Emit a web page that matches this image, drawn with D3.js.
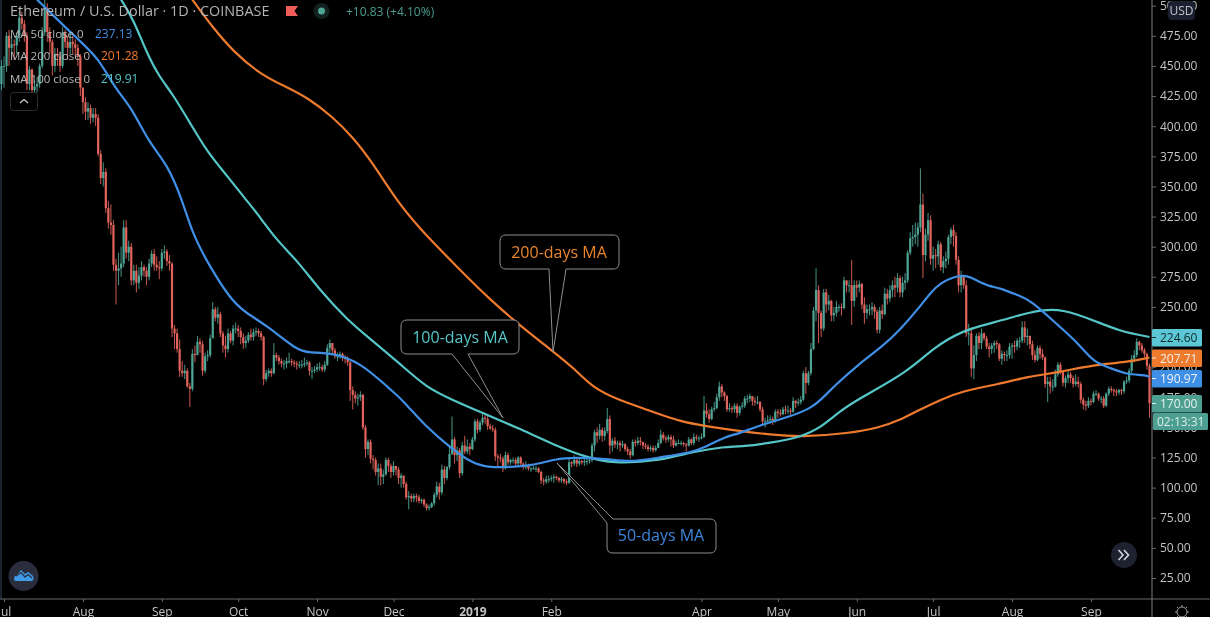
<!DOCTYPE html>
<html><head><meta charset="utf-8">
<script src="https://cdn.jsdelivr.net/npm/d3@7/dist/d3.min.js"></script>
<style>
html,body{margin:0;padding:0;background:#000;overflow:hidden}
svg{display:block;filter:blur(0.45px)}
text{font-family:"Open Sans",Roboto,sans-serif}
</style></head><body><div id="c"></div>
<script>
// Daily candles from 30 Jun 2018; each open is the previous close
const firstDay = "2018-06-30";
const firstOpen = 435;
const closes = [450,
450,475,465,468,467,475,490,485,475,435,447,430,433,435,450,478,498,478,470,450,460,458,450,478,470,465,470,468,465,458,432,
420,412,415,407,410,407,377,357,362,332,320,318,285,280,282,286,316,295,300,272,280,270,276,283,280,275,286,294,285,283,282,
295,296,288,286,232,228,215,197,195,197,184,182,211,210,221,219,197,209,210,224,248,241,244,228,218,215,228,222,232,232,
230,225,220,222,227,225,229,230,228,225,190,195,197,195,210,208,205,203,203,205,205,204,203,202,202,202,203,204,197,197,198,
200,200,198,202,216,220,214,209,209,211,208,207,204,181,177,174,175,177,150,132,138,124,123,113,116,109,111,123,118,113,
118,115,108,110,103,92,93,91,93,92,89,90,86,83,84,87,94,101,96,115,108,117,128,140,127,131,112,135,130,134,132,
140,155,148,154,158,157,151,149,148,126,125,124,116,127,121,123,123,120,125,120,117,118,116,116,116,116,113,106,105,107,107,
108,109,108,106,107,105,104,121,120,123,120,122,121,122,122,123,135,146,143,148,143,147,157,135,139,136,137,135,
136,132,130,127,138,137,139,138,135,134,132,133,131,133,137,144,141,140,142,140,135,137,137,137,136,135,140,137,142,141,141,
142,164,161,157,165,166,175,184,179,176,165,166,165,168,162,167,168,174,174,176,172,171,171,165,155,155,156,157,155,163,
162,161,165,164,164,163,172,170,171,173,195,187,195,215,247,264,245,232,262,252,255,243,245,250,250,249,272,268,268,255,268,
266,269,252,245,248,248,250,246,231,247,244,261,257,264,268,266,274,262,270,272,295,307,308,310,316,335,293,310,322,290,
293,292,302,283,288,290,308,314,309,289,268,275,268,228,228,199,210,226,220,228,224,217,215,218,220,219,207,211,210,210,217,
218,217,222,222,233,225,226,219,210,206,216,211,208,186,188,184,184,194,202,196,187,191,194,191,186,188,186,173,169,168,172,
171,178,178,174,174,168,178,182,181,180,179,181,180,188,189,197,207,210,221,218,214,211,201,170];
const highs = [455,
458,478,480,475,472,478,495,495,488,478,450,448,438,441,452,482,505,502,482,472,465,465,462,482,480,475,478,475,472,468,460,
432,424,420,418,415,415,410,380,370,365,338,335,322,290,295,300,322,322,305,303,285,285,283,288,285,283,290,297,298,292,288,
298,301,298,293,287,235,232,223,205,202,199,187,215,218,226,224,222,212,214,227,254,250,250,246,230,226,232,230,235,237,
235,233,228,226,229,232,232,233,232,230,226,198,199,199,220,212,210,207,206,208,212,207,206,205,205,206,208,206,205,200,201,
203,204,202,205,219,223,220,216,212,213,212,210,209,205,184,180,178,180,178,152,140,140,127,125,120,120,115,125,125,120,
122,118,117,112,110,105,97,95,95,95,94,91,91,87,86,88,96,105,104,119,118,118,135,159,142,134,133,138,143,140,137,
142,157,157,156,161,160,160,153,152,150,128,128,126,130,129,124,125,125,126,126,121,122,120,117,118,118,117,114,108,110,110,
110,111,110,109,109,108,107,124,122,127,125,124,123,124,125,125,137,148,150,153,150,150,166,160,141,142,139,139,
139,137,134,132,140,140,142,142,138,137,136,135,135,135,140,148,146,143,144,144,143,139,140,139,138,137,142,141,145,144,143,
145,176,170,165,167,171,178,188,186,180,177,170,168,170,170,168,171,176,177,178,175,175,176,172,167,158,160,160,159,165,
165,165,167,168,168,166,175,173,174,176,197,200,197,220,250,282,268,247,265,265,260,256,250,255,252,253,275,272,272,289,272,
272,272,270,258,252,252,254,252,248,250,252,266,265,268,272,275,278,276,275,278,297,312,318,320,320,365,344,315,328,326,
300,298,305,304,292,296,310,316,318,312,292,280,276,272,236,233,218,228,229,232,229,226,220,220,222,222,220,214,213,214,220,
220,222,224,225,238,238,232,226,222,214,218,218,215,209,192,192,190,198,204,204,197,193,197,196,193,194,192,188,175,172,175,
174,180,181,179,176,176,179,184,184,182,182,182,182,189,192,199,210,214,224,222,220,216,212,203];
const lows = [430,
432,445,450,455,455,460,470,480,470,430,430,425,420,428,432,448,475,470,460,442,445,450,445,448,465,455,460,460,458,450,425,
410,405,405,402,403,400,375,352,350,328,315,310,280,252,268,275,283,290,288,268,268,262,265,272,275,268,272,283,280,280,273,
280,290,284,280,225,215,212,192,192,190,183,167,180,204,210,212,193,195,205,208,224,238,236,225,212,208,212,220,218,228,
225,219,215,216,220,222,222,226,225,222,185,188,192,192,194,205,202,200,198,199,203,201,200,198,199,199,200,201,193,190,195,
196,197,196,196,201,212,210,207,205,207,205,203,201,172,165,170,168,172,148,125,127,120,115,110,102,102,103,110,113,108,
110,110,103,100,100,90,82,88,88,88,87,87,84,81,81,83,85,92,90,94,103,106,115,127,120,122,108,110,128,128,127,
131,138,145,146,152,153,148,148,146,122,118,121,113,115,119,119,120,118,118,117,115,115,114,113,115,113,112,103,102,103,104,
105,104,106,104,104,103,102,103,117,118,117,118,119,118,119,120,121,130,137,140,138,139,145,128,130,133,132,130,
133,130,127,124,126,134,135,135,132,132,130,130,129,130,133,136,139,137,138,134,133,134,136,135,134,130,134,135,135,139,138,
140,141,158,154,156,163,165,172,175,172,163,163,162,162,158,160,165,166,170,171,168,168,169,163,152,150,153,153,152,154,
158,159,160,161,161,160,162,166,168,169,172,178,185,193,214,238,220,225,230,245,247,238,238,242,246,243,248,262,262,235,250,
258,262,248,236,240,243,243,240,228,228,240,243,252,254,258,258,262,258,258,264,270,293,300,302,300,312,274,288,305,285,
280,282,285,280,278,282,285,302,300,285,262,262,265,225,218,192,190,205,215,215,222,215,208,211,212,215,205,202,205,205,207,
207,212,214,216,220,220,218,215,206,204,205,207,206,183,171,178,180,183,192,194,184,183,187,187,183,184,183,170,165,164,166,
168,170,176,172,170,166,167,176,179,176,176,177,177,178,186,187,195,204,208,214,212,208,198,158];

// Moving averages, read at days counted from 1 Jul 2018
const ma50Days = [13,29,37,44,50,57,64,70,74,80,89,95,103,115,120,129,140,152,156,166,175,184,190,198,207,217,224,237,246,257,270,276,283,289,297,309,317,321,326,336,345,352,359,364,368,373,378,382,387,391,399,403,415,422,428,435,441,448,450];
const ma50Values = [505,472,457,430,416,386,369,339,311,286.5,256,245,235,214,212,212,204,181,174,150,134,120,117,117,118,124,125,124,121,125,129,134,142,145,152,159,166,173,184,203,217,231,248,262,270,275,276.5,272,267,266,259,256,233,220,204,199,194,193.5,192];
const ma100Days = [46,51,56,61,66,73,80,88,95,99,107,115,124,135,143,156,166,176,188,202,216,229,239,257,271,283,289,301,313,321,328,336,355,365,377,389,402,408,416,428,438,450];
const ma100Values = [505,488,461,441,427.5,403,378,358,339,329,305.5,289,264,239,225,202,183,173,162,149.5,135.5,125,120,122,130,134,134,137,142,150,163,174,196,216,231,237,245,247.5,248,239,230,225];
const ma200Days = [74,82,90,101,111,119,129,137,145,154,163,179,191,201,216,224,231,241,253,266,276,289,301,313,332,344,352,360,368,376,391,402,415,428,441,450];
const ma200Values = [505,482,462,442.5,432.5,424,408,391,369,339,315.5,281,256,237.5,212.5,199,183.5,173,164.5,154.5,151,147,144,142,145,150,156,165,173,180,186,192,196,202,204,208];

// Axes
const priceTicks = [25,50,75,100,125,150,175,200,225,250,275,300,325,350,375,400,425,450,475,500];
const timeTickDates = ["2018-07-01","2018-08-01","2018-09-01","2018-10-01","2018-11-01","2018-12-01","2019-01-01","2019-02-01","2019-04-01","2019-05-01","2019-06-01","2019-07-01","2019-08-01","2019-09-01"];
const timeTickLabels = ["Jul","Aug","Sep","Oct","Nov","Dec","2019","Feb","Apr","May","Jun","Jul","Aug","Sep"];

// Legend and price tags
const legendNames = ["MA 50 close 0","MA 200 close 0","MA 100 close 0"];
const legendValues = ["237.13","201.28","219.91"];
const tagValues = [224.60,207.71,190.97,170.00];

const W=1210,H=617,AX=1152,AY=599;
const C={up:"#4ea596",down:"#e2635b",ma50:"#3f8fe6",ma100:"#55c6c8",ma200:"#ee7a2d",axis:"#666a6e",txt:"#c4c4c4",bub:"#8e8e8e"};
const pd=d3.utcParse("%Y-%m-%d");
const x=d3.scaleUtc().domain([pd("2018-07-01"),pd("2019-09-24")]).range([4,1149.5]);
const y=d3.scaleLinear().domain([25,500]).range([578,5.7]);
const day0=pd(firstDay);
const candles=closes.map((c,i)=>({date:d3.utcDay.offset(day0,i),o:i?closes[i-1]:firstOpen,c,h:highs[i],l:lows[i]}));

const svg=d3.select("#c").append("svg").attr("width",W).attr("height",H);
svg.append("rect").attr("width",W).attr("height",H).attr("fill","#000");
svg.append("defs").append("clipPath").attr("id","plot").append("rect").attr("x",0).attr("y",0).attr("width",AX).attr("height",AY);
svg.append("line").attr("x1",1).attr("x2",1).attr("y1",0).attr("y2",AY).attr("stroke","#1c2230").attr("stroke-width",2);
const plot=svg.append("g").attr("clip-path","url(#plot)");

const cg=plot.append("g").selectAll("g").data(candles).join("g")
 .attr("fill",d=>d.c>=d.o?C.up:C.down).attr("stroke",d=>d.c>=d.o?C.up:C.down);
cg.append("line").attr("x1",d=>x(d.date)).attr("x2",d=>x(d.date)).attr("y1",d=>y(d.h)).attr("y2",d=>y(d.l)).attr("stroke-width",1).attr("stroke-opacity",.9);
cg.append("rect").attr("stroke","none").attr("x",d=>x(d.date)-1.1).attr("width",2.2)
 .attr("y",d=>y(Math.max(d.o,d.c))).attr("height",d=>Math.max(1,Math.abs(y(d.o)-y(d.c))));

const line=d3.line().x(d=>x(d3.utcDay.offset(pd("2018-07-01"),d[0]))).y(d=>y(d[1])).curve(d3.curveBasis);
[[ma200Days,ma200Values,C.ma200],[ma100Days,ma100Values,C.ma100],[ma50Days,ma50Values,C.ma50]].forEach(([ds,vs,col])=>{
 plot.append("path").datum(ds.map((d,i)=>[d,vs[i]])).attr("d",line).attr("fill","none").attr("stroke",col).attr("stroke-width",2.2);
});

// axes
const yAxis=d3.axisRight(y).tickValues(priceTicks).tickFormat(d3.format(".2f")).tickSize(4).tickPadding(4);
const yg=svg.append("g").attr("transform",`translate(${AX},0)`).call(yAxis);
yg.select(".domain").remove();
yg.selectAll("line").attr("stroke",C.axis);
yg.selectAll("text").attr("fill",C.txt).attr("font-size",12);
svg.append("line").attr("x1",AX).attr("x2",AX).attr("y1",0).attr("y2",H).attr("stroke",C.axis).attr("stroke-width",1.2);
svg.append("line").attr("x1",0).attr("x2",W).attr("y1",AY).attr("y2",AY).attr("stroke",C.axis).attr("stroke-width",1.2);
const xAxis=d3.axisBottom(x).tickValues(timeTickDates.map(pd)).tickFormat((d,i)=>timeTickLabels[i]).tickSize(3).tickPadding(5);
const xg=svg.append("g").attr("transform",`translate(0,${AY})`).call(xAxis);
xg.select(".domain").remove();
xg.selectAll("line").attr("stroke",C.axis);
xg.selectAll("text").attr("fill",C.txt).attr("font-size",12).attr("font-weight",(d,i)=>timeTickLabels[i]==="2019"?700:400);

// price tags
const tagStyle=[{fill:"#5cc8d6",tc:"#10292e"},{fill:"#ee7a2d",tc:"#f2efe9"},{fill:"#3f8fe6",tc:"#f0f4fa"},{fill:"#4d9f92",tc:"#e6f0ee"}];
const tagY=[337.5,358,378.5,403.5];
tagValues.forEach((v,i)=>{
 const g=svg.append("g");
 g.append("rect").attr("x",AX).attr("y",tagY[i]-8.5).attr("width",50).attr("height",17.5).attr("rx",1.5).attr("fill",tagStyle[i].fill);
 g.append("text").attr("x",1160).attr("y",tagY[i]+4.5).attr("font-size",12).attr("fill",tagStyle[i].tc).text(d3.format(".2f")(v));
 g.append("line").attr("x1",AX).attr("x2",AX+4).attr("y1",tagY[i]).attr("y2",tagY[i]).attr("stroke",tagStyle[i].tc);
});
svg.append("rect").attr("x",1153).attr("y",413).attr("width",55).attr("height",17).attr("rx",1.5).attr("fill","#4d9f92");
svg.append("text").attr("x",1157).attr("y",426).attr("font-size",12).attr("fill","#dcebe8").text("02:13:31");

// USD box
svg.append("rect").attr("x",1168).attr("y",1).attr("width",27).attr("height",19).attr("rx",4).attr("fill","#1b2030");
svg.append("text").attr("x",1181.5).attr("y",15).attr("text-anchor","middle").attr("font-size",12).attr("fill","#c0c4cc").text("USD");

// header
svg.append("text").attr("x",10).attr("y",16).attr("font-size",14.4).attr("fill","#b4b4b4").text("Ethereum / U.S. Dollar · 1D · COINBASE");
svg.append("path").attr("d","M286 6H298L294.5 11L298 16H286Z").attr("fill","#ef5d5a");
svg.append("circle").attr("cx",321.5).attr("cy",11).attr("r",8).attr("fill","#12211f");
svg.append("circle").attr("cx",321.5).attr("cy",11).attr("r",3.5).attr("fill","#4ea596");
svg.append("text").attr("x",346).attr("y",16).attr("font-size",12).attr("fill","#4a9c8e").text("+10.83 (+4.10%)");

// legend
const legendY=[38,60,83],legendX=[95,101,101],legendCol=[C.ma50,C.ma200,C.ma100];
legendNames.forEach((n,i)=>{
 svg.append("text").attr("x",10).attr("y",legendY[i]).attr("font-size",11.5).attr("fill","#b8b8b8").text(n);
 svg.append("text").attr("x",legendX[i]).attr("y",legendY[i]).attr("font-size",12).attr("fill",legendCol[i]).text(legendValues[i]);
});
svg.append("rect").attr("x",10.5).attr("y",92.5).attr("width",27).attr("height",18).attr("rx",3).attr("fill","#000").attr("stroke","#2a2d36");
svg.append("path").attr("d","M20 103L24 99.5L28 103").attr("fill","none").attr("stroke","#c8c8c8").attr("stroke-width",1.3);

// callouts
const bubble=(d,col,label,tx,ty)=>{
 svg.append("path").attr("d",d).attr("fill","#000").attr("stroke",C.bub).attr("stroke-width",1);
 svg.append("text").attr("x",tx).attr("y",ty).attr("text-anchor","middle").attr("font-size",16).attr("fill",col).text(label);
};
bubble("M506 235H613Q619 235 619 241V263Q619 269 613 269H566L553 352L549 269H506Q500 269 500 263V241Q500 235 506 235Z","#e8842d","200-days MA",559,258);
bubble("M407 320H513Q519 320 519 326V348Q519 354 513 354H468L503 418L452 354H407Q401 354 401 348V326Q401 320 407 320Z",C.ma100,"100-days MA",460,343);
bubble("M613 519H710Q716 519 716 525V547Q716 553 710 553H613Q607 553 607 547V523L557 463Z","#3d85d8","50-days MA",661,541);

// buttons
svg.append("circle").attr("cx",1124).attr("cy",555).attr("r",13).attr("fill","#1d2130");
svg.append("path").attr("d","M1118.5 550L1123 555L1118.5 560M1124 550L1128.5 555L1124 560").attr("fill","none").attr("stroke","#d0d4dc").attr("stroke-width",1.6);
svg.append("circle").attr("cx",23.5).attr("cy",576).attr("r",15).attr("fill","#2a2e3c");
svg.append("path").attr("d","M14 579Q14 576 17 575L21 570L25 574L28 572L33 576Q34.5 579 32 581H16Q14 581 14 579Z").attr("fill","#3f9be8");
svg.append("path").attr("d","M16 576L21 572.5L25 577L28 574.5L32 578").attr("fill","none").attr("stroke","#2a2e3c").attr("stroke-width",1.3);
const gear=svg.append("g").attr("fill","none").attr("stroke","#9a9a9a");
gear.append("circle").attr("cx",1182).attr("cy",612).attr("r",5);
d3.range(8).forEach(i=>{const a=i*Math.PI/4;gear.append("line").attr("x1",1182+5*Math.cos(a)).attr("y1",612+5*Math.sin(a)).attr("x2",1182+7*Math.cos(a)).attr("y2",612+7*Math.sin(a));});
</script></body></html>
